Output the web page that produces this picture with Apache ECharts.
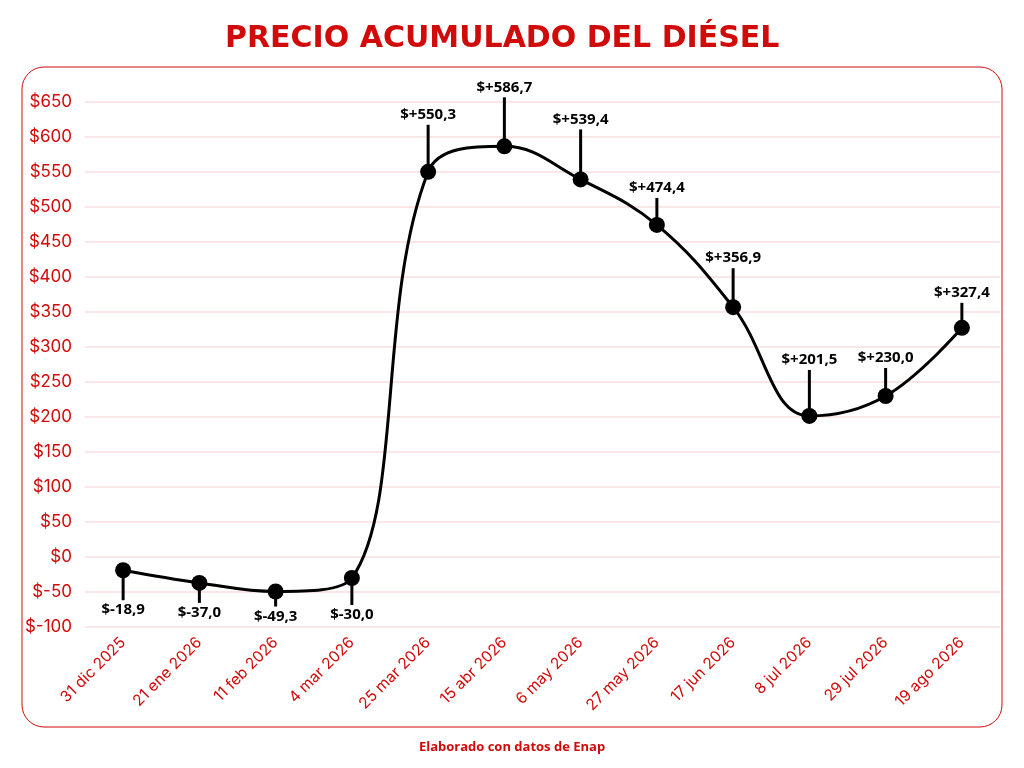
<!DOCTYPE html>
<html lang="es">
<head>
    <meta charset="UTF-8">
    <title>Precio acumulado del diésel</title>
    <style>
        html, body { margin: 0; padding: 0; background: #fff; }
        #chart { width: 1024px; height: 768px; }
    </style>
</head>
<body>
<div id="chart"></div>
<script src="https://cdn.jsdelivr.net/npm/echarts@6/dist/echarts.min.js"></script>
<script type="text/javascript">
    // fechas del eje x
    var fechas = ['31 dic 2025', '21 ene 2026', '11 feb 2026', '4 mar 2026', '25 mar 2026', '15 abr 2026',
        '6 may 2026', '27 may 2026', '17 jun 2026', '8 jul 2026', '29 jul 2026', '19 ago 2026'];
    // precio acumulado ($)
    var acumulado = [-18.9, -37.0, -49.3, -30.0, 550.3, 586.7, 539.4, 474.4, 356.9, 201.5, 230.0, 327.4];
    // largo del palito de cada etiqueta (px)
    var largoPin = [30, 20, 15, 27, 47, 49, 50, 27, 39, 46, 28, 25];

    var rojo = '#d10a0a';

    function fmt(v) {
        var s = Math.abs(v).toFixed(1).replace('.', ',');
        return v < 0 ? '$-' + s : '$+' + s;
    }

    var pinData = [];
    for (var i = 0; i < acumulado.length; i++) {
        pinData.push([i, acumulado[i], largoPin[i]]);
    }

    var chart = echarts.init(document.getElementById('chart'));
    var option = {
        backgroundColor: '#fff',
        animation: false,
        title: {
            text: 'PRECIO ACUMULADO DEL DIÉSEL',
            left: 220,
            top: 19,
            textStyle: {
                color: rojo,
                fontFamily: 'DejaVu Sans',
                fontWeight: 'bold',
                fontSize: 30
            }
        },
        graphic: [
            {
                type: 'rect',
                shape: {x: 22, y: 67, width: 980, height: 660, r: 22},
                style: {fill: 'none', stroke: rojo, lineWidth: 1},
                z: -1
            },
            {
                type: 'text',
                left: 'center',
                top: 741,
                style: {
                    text: 'Elaborado con datos de Enap',
                    fill: rojo,
                    font: 'bold 13px "Open Sans"'
                }
            }
        ],
        grid: {left: 85, right: 24, top: 102, bottom: 141},
        xAxis: {
            type: 'category',
            data: fechas,
            axisLine: {show: false},
            axisTick: {show: false},
            axisLabel: {
                rotate: 45,
                color: rojo,
                fontFamily: 'Inter',
                fontSize: 15.5,
                margin: 13,
                interval: 0
            }
        },
        yAxis: {
            type: 'value',
            min: -100,
            max: 650,
            interval: 50,
            axisLine: {show: false},
            axisTick: {show: false},
            axisLabel: {
                color: rojo,
                fontFamily: 'Inter',
                fontSize: 17,
                margin: 13,
                formatter: function (v) { return '$' + v; }
            },
            splitLine: {lineStyle: {color: '#f9dcdf', width: 1.5}}
        },
        series: [
            {
                type: 'line',
                data: acumulado,
                smooth: 0.4,
                symbol: 'circle',
                symbolSize: 16,
                itemStyle: {color: '#000'},
                lineStyle: {color: '#000', width: 3},
                z: 3
            },
            {
                // palitos y etiquetas
                type: 'custom',
                data: pinData,
                z: 2,
                renderItem: function (params, api) {
                    var p = api.coord([api.value(0), api.value(1)]);
                    var dir = api.value(1) < 0 ? 1 : -1;
                    var len = api.value(2);
                    var y2 = p[1] + dir * len;
                    return {
                        type: 'group',
                        children: [
                            {
                                type: 'line',
                                shape: {x1: p[0], y1: p[1], x2: p[0], y2: y2},
                                style: {stroke: '#000', lineWidth: 3}
                            },
                            {
                                type: 'text',
                                x: p[0],
                                y: y2 + dir * 10,
                                style: {
                                    text: fmt(api.value(1)),
                                    fill: '#000',
                                    font: 'bold 15px "Open Sans"',
                                    align: 'center',
                                    verticalAlign: 'middle'
                                }
                            }
                        ]
                    };
                }
            }
        ]
    };
    chart.setOption(option);
</script>
</body>
</html>
